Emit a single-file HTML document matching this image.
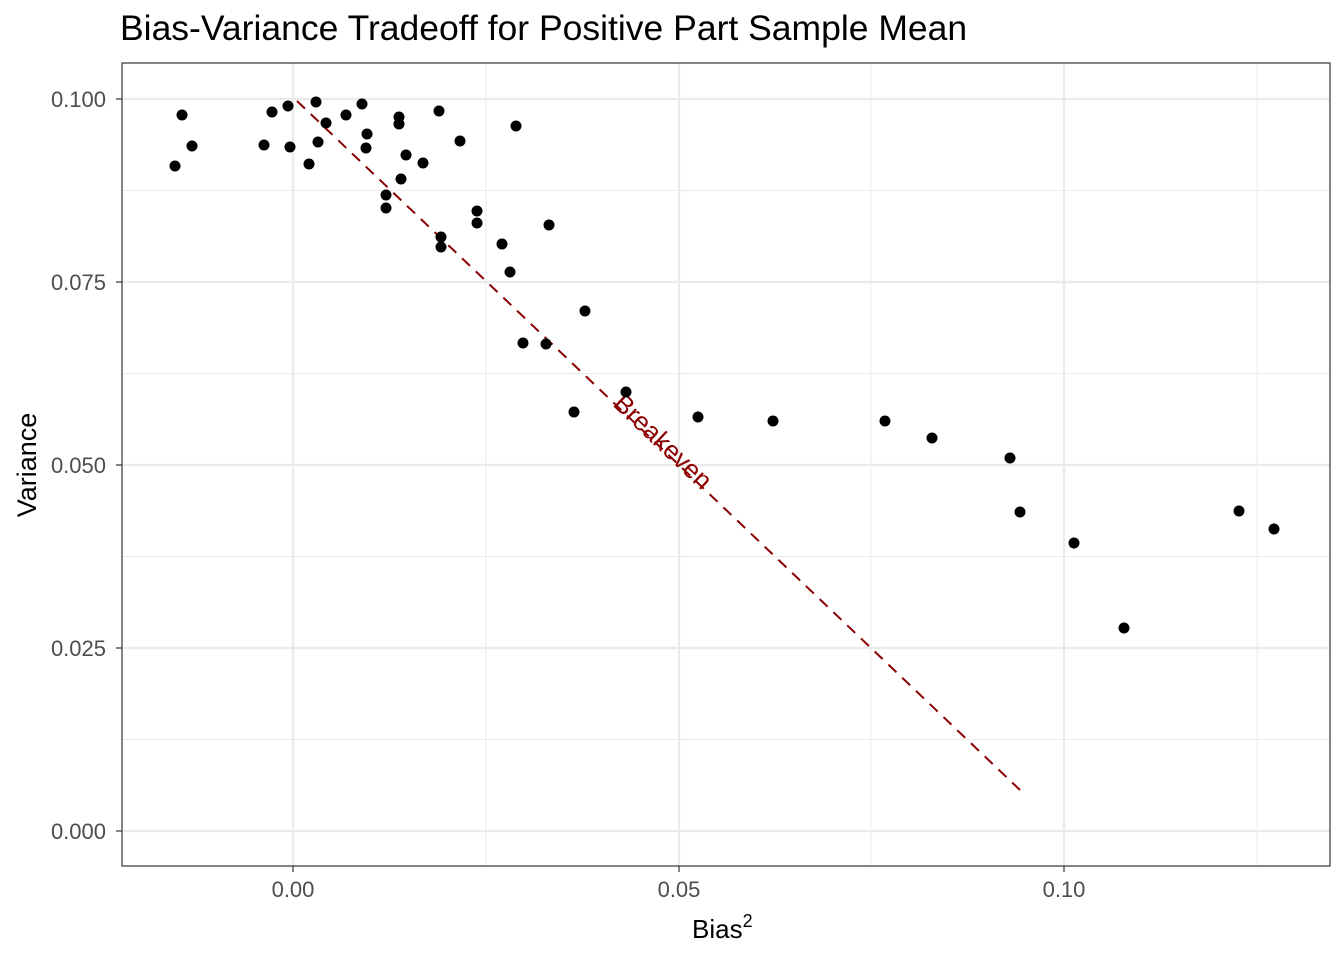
<!DOCTYPE html>
<html><head><meta charset="utf-8"><style>
body{margin:0;background:#fff;}
svg{display:block;font-family:"Liberation Sans",Arial,sans-serif;}
</style></head><body>
<svg width="1344" height="960" viewBox="0 0 1344 960" xmlns="http://www.w3.org/2000/svg">
<rect width="1344" height="960" fill="#fff"/>
<text x="120" y="40" font-size="35.5" fill="#000">Bias-Variance Tradeoff for Positive Part Sample Mean</text>
<g stroke="#ebebeb" stroke-width="1">
<line x1="486" y1="63" x2="486" y2="866"/><line x1="871" y1="63" x2="871" y2="866"/><line x1="1257" y1="63" x2="1257" y2="866"/>
<line x1="122" y1="190.5" x2="1330" y2="190.5"/><line x1="122" y1="373.5" x2="1330" y2="373.5"/><line x1="122" y1="556.5" x2="1330" y2="556.5"/><line x1="122" y1="739.5" x2="1330" y2="739.5"/>
</g>
<g stroke="#ebebeb" stroke-width="2.2">
<line x1="293" y1="63" x2="293" y2="866"/><line x1="679" y1="63" x2="679" y2="866"/><line x1="1064" y1="63" x2="1064" y2="866"/>
<line x1="122" y1="99" x2="1330" y2="99"/><line x1="122" y1="282" x2="1330" y2="282"/><line x1="122" y1="465" x2="1330" y2="465"/><line x1="122" y1="648" x2="1330" y2="648"/><line x1="122" y1="831" x2="1330" y2="831"/>
</g>
<line x1="297" y1="101" x2="1020" y2="790" stroke="#8b0000" stroke-width="2" stroke-dasharray="11,8"/>
<text x="0" y="0" font-size="26" fill="#8b0000" text-anchor="middle" transform="translate(657,448) rotate(43.6)">Breakeven</text>
<g fill="#000">
<circle cx="175" cy="166" r="5.5"/><circle cx="182" cy="115" r="5.5"/><circle cx="192" cy="146" r="5.5"/><circle cx="264" cy="145" r="5.5"/><circle cx="272" cy="112" r="5.5"/><circle cx="288" cy="106" r="5.5"/><circle cx="290" cy="147" r="5.5"/><circle cx="309" cy="164" r="5.5"/><circle cx="316" cy="102" r="5.5"/><circle cx="318" cy="142" r="5.5"/><circle cx="326" cy="123" r="5.5"/><circle cx="346" cy="115" r="5.5"/><circle cx="362" cy="104" r="5.5"/><circle cx="367" cy="134" r="5.5"/><circle cx="366" cy="148" r="5.5"/><circle cx="399" cy="117" r="5.5"/><circle cx="399" cy="124" r="5.5"/><circle cx="406" cy="155" r="5.5"/><circle cx="401" cy="179" r="5.5"/><circle cx="386" cy="195" r="5.5"/><circle cx="386" cy="208" r="5.5"/><circle cx="423" cy="163" r="5.5"/><circle cx="439" cy="111" r="5.5"/><circle cx="441" cy="237" r="5.5"/><circle cx="441" cy="247" r="5.5"/><circle cx="460" cy="141" r="5.5"/><circle cx="477" cy="211" r="5.5"/><circle cx="477" cy="223" r="5.5"/><circle cx="502" cy="244" r="5.5"/><circle cx="510" cy="272" r="5.5"/><circle cx="516" cy="126" r="5.5"/><circle cx="523" cy="343" r="5.5"/><circle cx="546" cy="344" r="5.5"/><circle cx="549" cy="225" r="5.5"/><circle cx="574" cy="412" r="5.5"/><circle cx="585" cy="311" r="5.5"/><circle cx="626" cy="392" r="5.5"/><circle cx="698" cy="417" r="5.5"/><circle cx="773" cy="421" r="5.5"/><circle cx="885" cy="421" r="5.5"/><circle cx="932" cy="438" r="5.5"/><circle cx="1010" cy="458" r="5.5"/><circle cx="1020" cy="512" r="5.5"/><circle cx="1074" cy="543" r="5.5"/><circle cx="1124" cy="628" r="5.5"/><circle cx="1239" cy="511" r="5.5"/><circle cx="1274" cy="529" r="5.5"/>
</g>
<rect x="122" y="63" width="1208" height="803" fill="none" stroke="#333" stroke-width="1.2"/>
<g stroke="#333" stroke-width="1.2">
<line x1="293" y1="866" x2="293" y2="872"/><line x1="679" y1="866" x2="679" y2="872"/><line x1="1064" y1="866" x2="1064" y2="872"/>
<line x1="116" y1="99" x2="122" y2="99"/><line x1="116" y1="282" x2="122" y2="282"/><line x1="116" y1="465" x2="122" y2="465"/><line x1="116" y1="648" x2="122" y2="648"/><line x1="116" y1="831" x2="122" y2="831"/>
</g>
<g font-size="22" fill="#4d4d4d" text-anchor="end">
<text x="106" y="107">0.100</text><text x="106" y="290">0.075</text><text x="106" y="473">0.050</text><text x="106" y="656">0.025</text><text x="106" y="839">0.000</text>
</g>
<g font-size="22" fill="#4d4d4d" text-anchor="middle">
<text x="293" y="897">0.00</text><text x="679" y="897">0.05</text><text x="1064" y="897">0.10</text>
</g>
<text x="692" y="938" font-size="26" fill="#000">Bias<tspan font-size="18" dy="-11">2</tspan></text>
<text transform="translate(36,465) rotate(-90)" font-size="27" text-anchor="middle" fill="#000">Variance</text>
</svg>
</body></html>
